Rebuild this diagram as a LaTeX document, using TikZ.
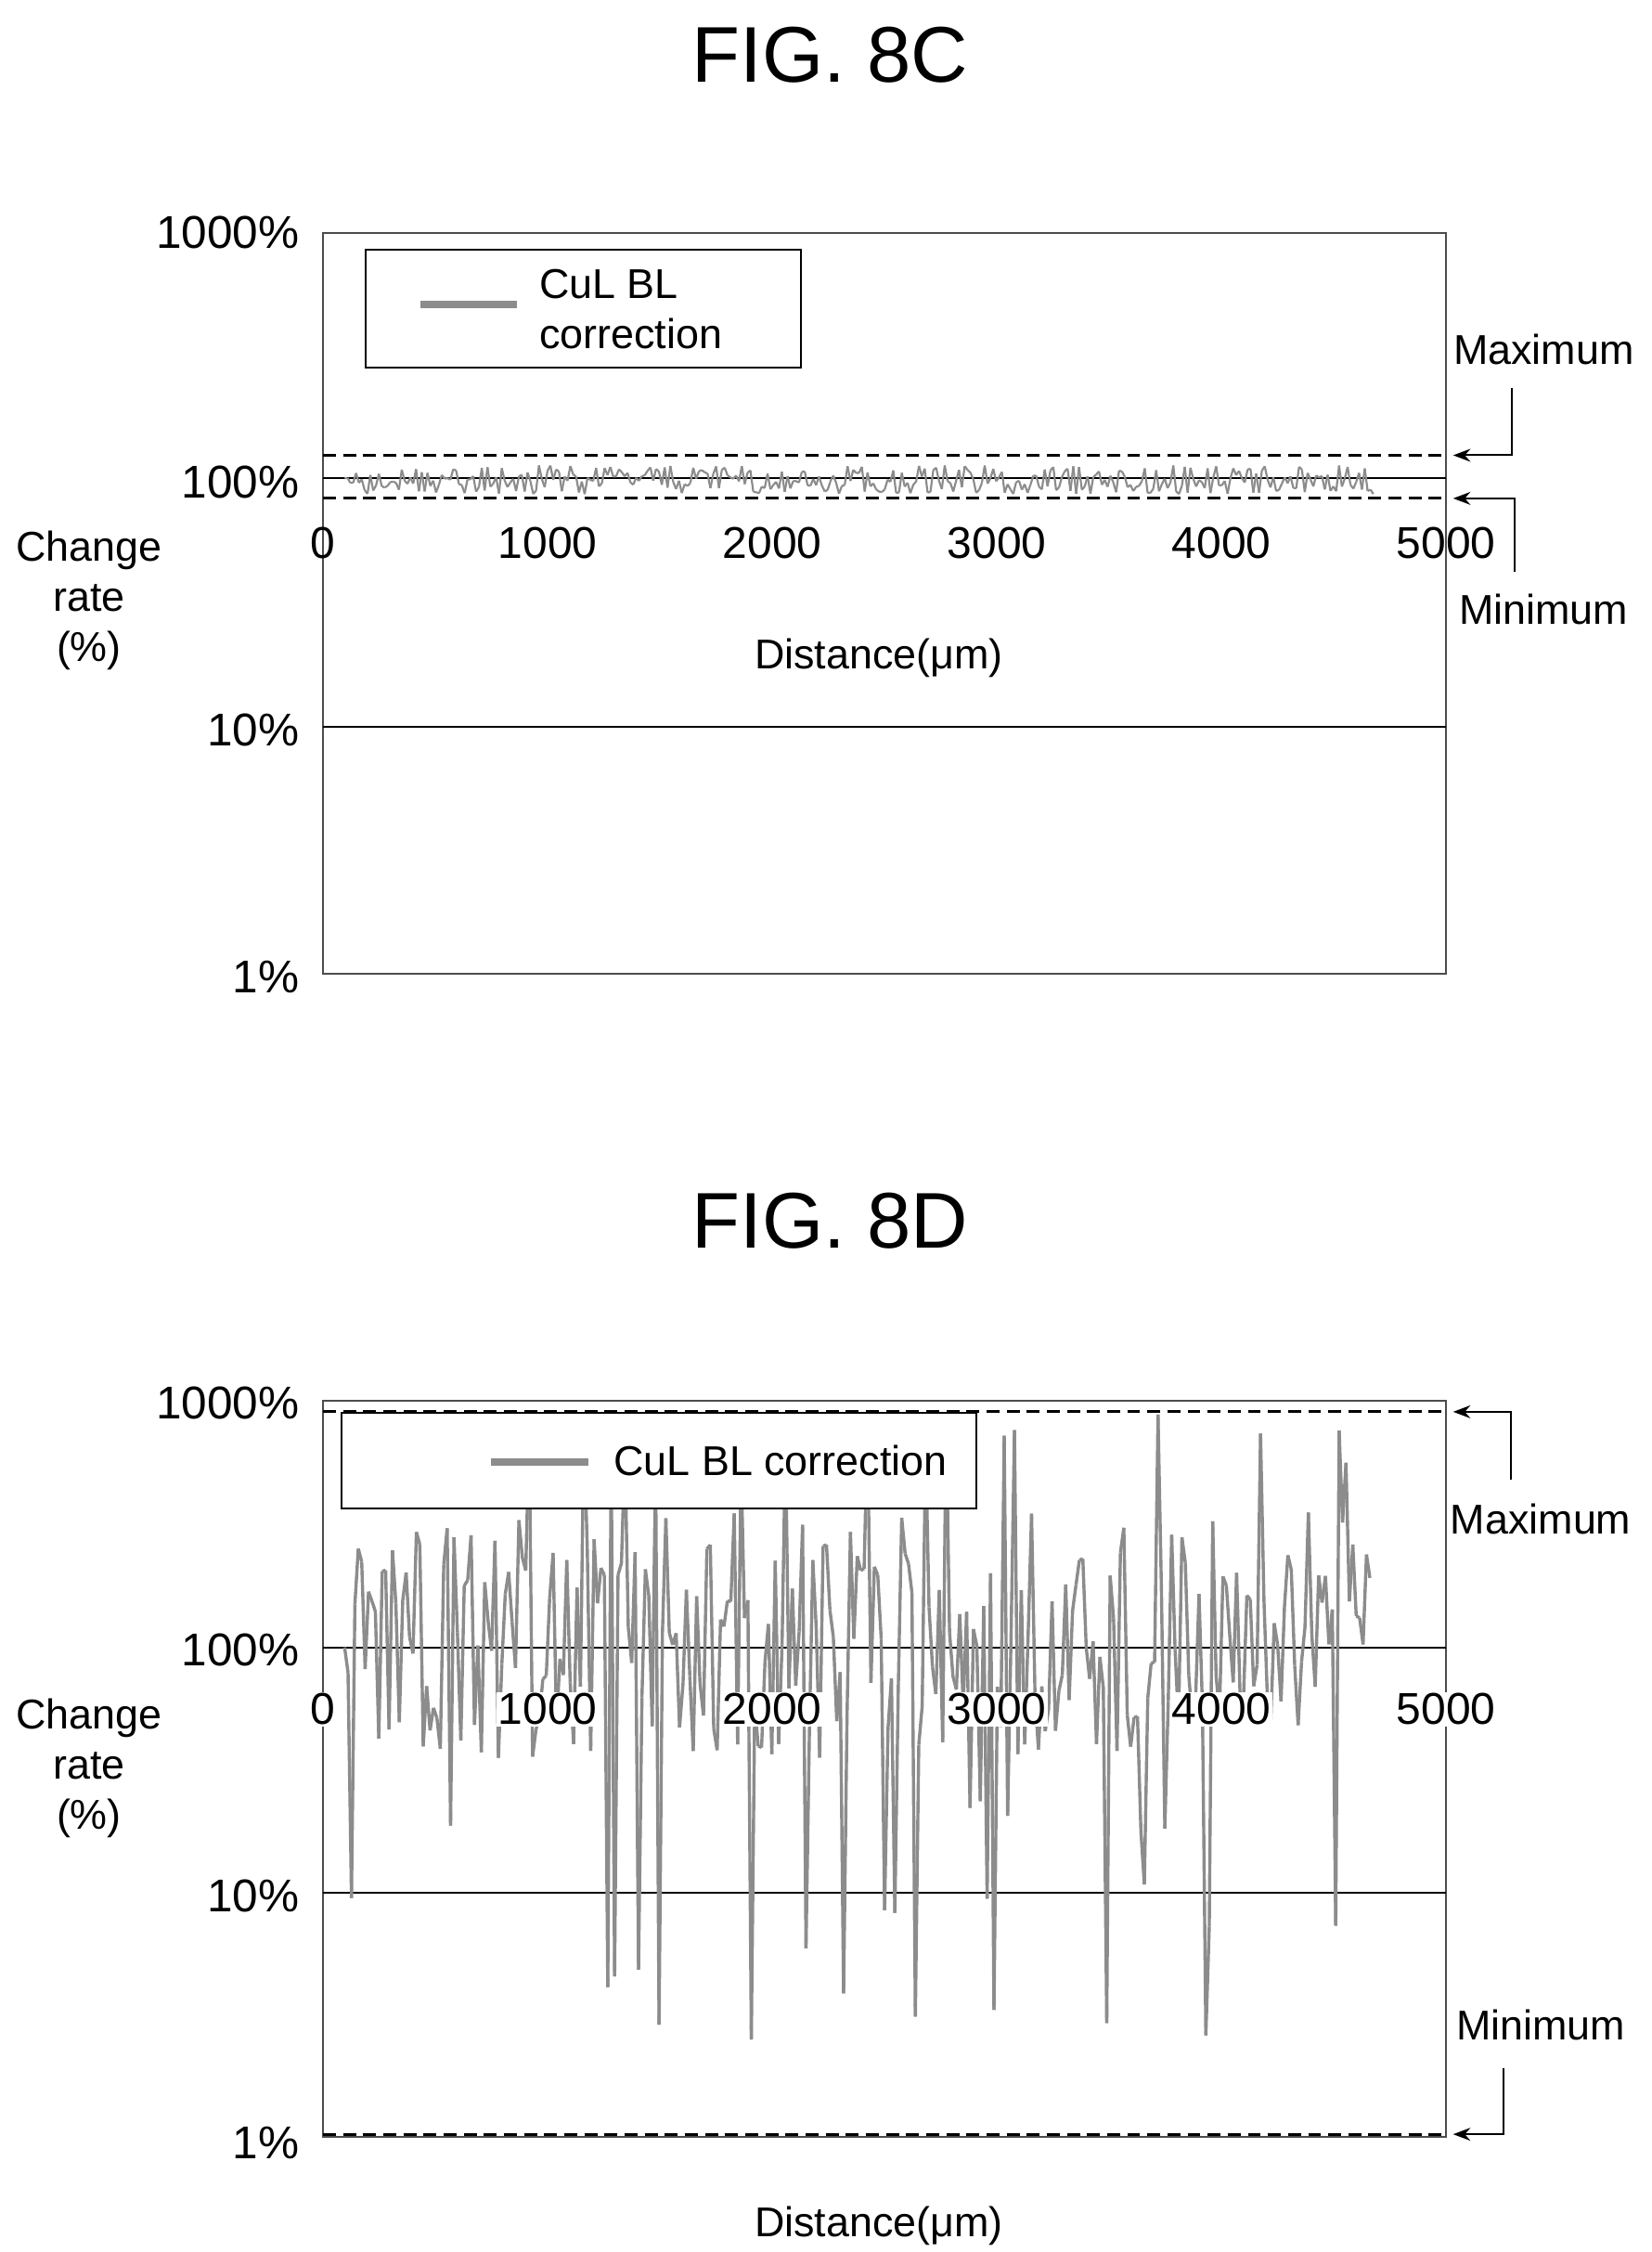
\documentclass[tikz,border=0pt]{standalone}
\usepackage{fontspec}
\setmainfont{Liberation Sans}
\usetikzlibrary{arrows.meta}
\begin{document}
\begin{tikzpicture}[x=1pt,y=-1pt,
  tick/.style={font=\fontsize{32}{33}\selectfont,anchor=east},
  xl/.style={font=\fontsize{31}{32}\selectfont},
  lab/.style={font=\fontsize{29}{35}\selectfont,align=center},
  ttl/.style={font=\fontsize{55}{57}\selectfont},
  frame/.style={draw=black!70,line width=1.3pt},
  grid/.style={line width=1.3pt},
  dsh/.style={line width=2pt,dash pattern=on 9pt off 5pt},
  arr/.style={line width=1.3pt,-{Stealth[length=12pt,width=9pt]}},
  data/.style={draw=black!45,line width=2.2pt,line join=round}]
\useasboundingbox (0,0) rectangle (1150,1568);
% ---------- FIG 8C ----------
\node[ttl] (tc) at (578,38) {FIG. 8C};
\draw[frame] (225,162) rectangle (1007,678);
\draw[grid] (225,333) -- (1007,333);
\draw[grid] (225,506) -- (1007,506);
\node[tick] (c1000) at (212,162) {1000\%};
\node[tick] (c100) at (212,336) {100\%};
\node[tick] (c10) at (212,508) {10\%};
\node[tick] (c1) at (212,680) {1\%};
\foreach \v [count=\k from 0] in {0,1000,2000,3000,4000,5000}
  \node[xl] (cx\k) at (225+\k*156.4,378) {\v};
\node[lab] (cxl) at (612,458) {Distance(μm)};
\node[lab] (cyl) at (62,418) {Change\\rate\\(\%)};
\pgfmathsetseed{7}
\xdef\px{240}\xdef\py{333}
\foreach \i in {1,...,360}{
  \pgfmathsetmacro\nx{240+\i*1.99}
  \pgfmathsetmacro\ny{334+10*rand}
  \draw[draw=black!45,line width=1.4pt] (\px,\py) -- (\nx,\ny);
  \xdef\px{\nx}\xdef\py{\ny}}
\draw[dsh] (225,317) -- (1007,317);
\draw[dsh] (225,347) -- (1007,347);
\node[draw,fill=white,line width=1.2pt,minimum width=303pt,minimum height=82pt] (cleg) at (406,215) {};
\draw[draw=black!45,line width=5pt] (293,212) -- (360,212);
\node[lab,align=left,anchor=west] (clegt) at (372,215) {CuL BL\\correction};
\node[lab] (cmax) at (1075,243) {Maximum};
\node[lab] (cmin) at (1075,424) {Minimum};
\coordinate (cm1) at (1053,270);
\coordinate (cm2) at (1053,317);
\coordinate (cn1) at (1055,398);
\coordinate (cn2) at (1055,347);
\draw[arr] (cm1) -- (cm2) -- (1012,317);
\draw[arr] (cn1) -- (cn2) -- (1012,347);
% ---------- FIG 8D ----------
\node[ttl] (td) at (578,850) {FIG. 8D};
\draw[frame] (225,975) rectangle (1007,1488);
\draw[grid] (225,1147) -- (1007,1147);
\draw[grid] (225,1318) -- (1007,1318);
\node[tick] (d1000) at (212,977) {1000\%};
\node[tick] (d100) at (212,1149) {100\%};
\node[tick] (d10) at (212,1320) {10\%};
\node[tick] (d1) at (212,1492) {1\%};
\pgfmathsetseed{11}
\xdef\px{240}\xdef\py{1147}
\foreach \i in {1,...,300}{
  \pgfmathsetmacro\nx{240+\i*2.38}
  \pgfmathsetmacro\r{rnd}
  \pgfmathsetmacro\lv{\r<0.07 ? -1.6+1.0*rnd : (\r>0.95 ? 0.75+0.2*rnd : 0.05+0.5*rand)}
  \pgfmathsetmacro\ny{1147-171*\lv}
  \draw[data] (\px,\py) -- (\nx,\ny);
  \xdef\px{\nx}\xdef\py{\ny}}
\foreach \v [count=\k from 0] in {0,1000,2000,3000,4000,5000}
  \node[xl,fill=white,inner sep=1pt] (dx\k) at (225+\k*156.4,1190) {\v};
\node[lab] (dxl) at (612,1550) {Distance(μm)};
\node[lab] (dyl) at (62,1231) {Change\\rate\\(\%)};
\draw[dsh] (225,983) -- (1007,983);
\draw[dsh] (225,1486) -- (1007,1486);
\node[draw,fill=white,line width=1.2pt,minimum width=442pt,minimum height=67pt] (dleg) at (459,1017) {};
\draw[draw=black!45,line width=5pt] (342,1018) -- (410,1018);
\node[lab,anchor=west] (dlegt) at (424,1017) {CuL BL correction};
\node[lab] (dmax) at (1073,1058) {Maximum};
\node[lab] (dmin) at (1073,1410) {Minimum};
\coordinate (dm1) at (1052,1030);
\coordinate (dm2) at (1052,983);
\coordinate (dn1) at (1047,1440);
\coordinate (dn2) at (1047,1486);
\draw[arr] (dm1) -- (dm2) -- (1012,983);
\draw[arr] (dn1) -- (dn2) -- (1012,1486);
\end{tikzpicture}
\end{document}
